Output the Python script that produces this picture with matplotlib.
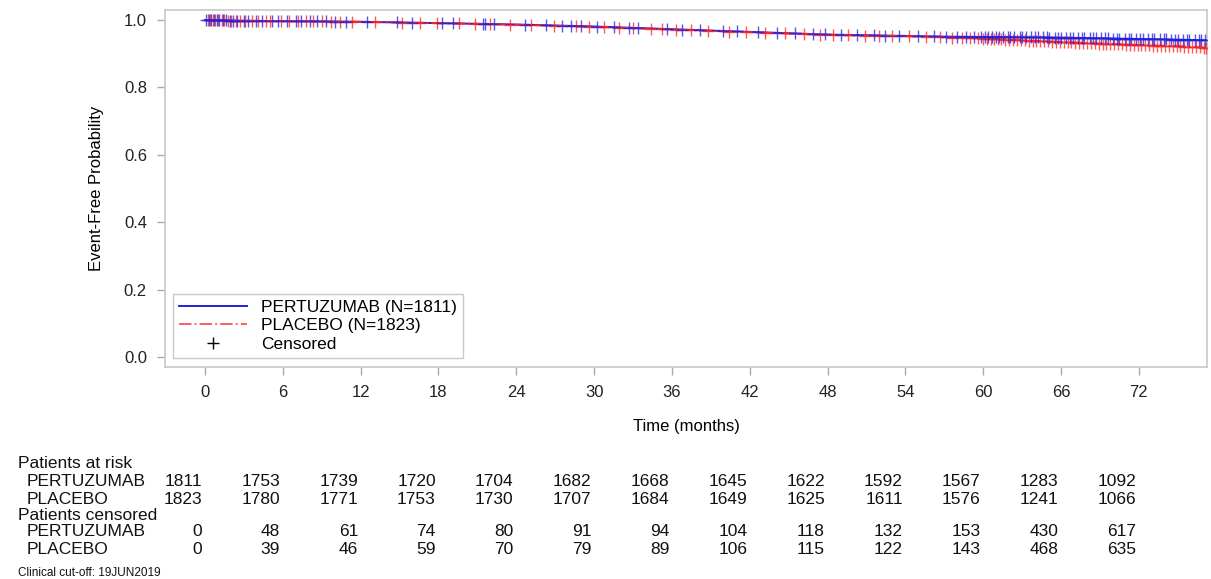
import numpy as np
import matplotlib
matplotlib.use("Agg")
import matplotlib.pyplot as plt
from matplotlib.lines import Line2D
from matplotlib.transforms import blended_transform_factory

plt.rcParams['font.family'] = ['Liberation Sans', 'DejaVu Sans']

# KM curve knots (months, event-free probability)
pert_t = [0, 3, 6, 9, 12, 15, 18, 21, 24, 27, 30, 33, 36, 39, 42, 45, 48, 51, 54, 57, 60, 63, 66, 69, 72, 75, 77.3]
pert_s = [1.0, 0.998, 0.997, 0.996, 0.995, 0.993, 0.991, 0.989, 0.987, 0.984, 0.981, 0.977, 0.973, 0.969,
          0.965, 0.961, 0.957, 0.955, 0.953, 0.951, 0.950, 0.949, 0.948, 0.946, 0.944, 0.942, 0.940]
plac_t = [0, 3, 6, 9, 12, 15, 18, 21, 24, 27, 30, 33, 36, 39, 42, 45, 48, 51, 54, 57, 60, 63, 66, 69, 72, 75, 77.3]
plac_s = [1.0, 0.998, 0.997, 0.996, 0.995, 0.993, 0.991, 0.989, 0.986, 0.983, 0.980, 0.976, 0.972, 0.968,
          0.964, 0.960, 0.956, 0.954, 0.952, 0.949, 0.945, 0.940, 0.935, 0.930, 0.926, 0.922, 0.918]

# censoring times (months)
pert_cens = [0.1, 0.3, 0.5, 0.7, 0.9, 1.1, 1.4, 1.6, 1.9, 2.2, 2.5, 3.0, 3.3, 3.9, 4.4, 5.2, 5.6, 6.3, 7.0,
             7.4, 8.1, 8.6, 9.3, 10.0, 10.9, 12.5, 14.8, 16.0, 18.3, 19.1, 21.4, 21.6, 22.3, 24.7, 26.3,
             27.5, 28.2, 29.0, 30.2, 31.5, 32.7, 33.4, 35.6, 36.8, 38.2, 39.9, 41.0, 42.6, 44.1, 45.5,
             46.9, 47.8, 49.0, 50.3, 51.6, 52.4, 53.5, 55.0, 56.2, 57.1, 58.0, 58.7, 59.3, 59.8, 60.1,
             60.4, 60.7, 61.0, 61.2, 61.5, 61.9, 62.1, 62.4, 62.8, 63.0, 63.3, 63.7, 64.0, 64.2, 64.6,
             64.9, 65.1, 65.5, 65.8, 66.0, 66.4, 66.7, 66.9, 67.3, 67.6, 67.8, 68.2, 68.5, 68.7, 69.1,
             69.4, 69.6, 70.0, 70.3, 70.5, 70.9, 71.2, 71.4, 71.8, 72.1, 72.3, 72.7, 73.0, 73.2, 73.6,
             73.9, 74.1, 74.5, 74.8, 75.0, 75.4, 75.7, 75.9, 76.3, 76.6, 76.8, 77.1]
plac_cens = [0.2, 0.4, 0.6, 0.8, 1.0, 1.3, 1.5, 1.8, 2.0, 2.4, 2.7, 3.1, 3.6, 4.1, 4.7, 5.0, 5.9, 6.5, 7.2,
             7.8, 8.3, 9.0, 9.7, 10.4, 11.3, 13.1, 15.2, 16.6, 17.9, 19.6, 20.8, 22.0, 23.5, 25.1, 26.9,
             28.6, 29.6, 30.8, 31.9, 33.0, 34.4, 35.2, 36.3, 37.5, 38.8, 40.4, 41.7, 43.2, 44.7, 46.2,
             47.4, 48.4, 49.6, 50.9, 52.0, 53.0, 54.3, 55.6, 56.7, 57.6, 58.4, 59.0, 59.6, 60.0, 60.3,
             60.6, 60.8, 61.1, 61.4, 61.7, 62.0, 62.3, 62.6, 62.9, 63.2, 63.5, 63.8, 64.1, 64.4, 64.7,
             65.0, 65.3, 65.6, 65.9, 66.2, 66.5, 66.8, 67.1, 67.4, 67.7, 68.0, 68.3, 68.6, 68.9, 69.2,
             69.5, 69.8, 70.1, 70.4, 70.7, 71.0, 71.3, 71.6, 71.9, 72.2, 72.5, 72.8, 73.1, 73.4, 73.7,
             74.0, 74.3, 74.6, 74.9, 75.2, 75.5, 75.8, 76.1, 76.4, 76.7, 77.0, 77.2]

# risk table
table_times = [0, 6, 12, 18, 24, 30, 36, 42, 48, 54, 60, 66, 72]
risk_pert = [1811, 1753, 1739, 1720, 1704, 1682, 1668, 1645, 1622, 1592, 1567, 1283, 1092]
risk_plac = [1823, 1780, 1771, 1753, 1730, 1707, 1684, 1649, 1625, 1611, 1576, 1241, 1066]
cens_pert = [0, 48, 61, 74, 80, 91, 94, 104, 118, 132, 153, 430, 617]
cens_plac = [0, 39, 46, 59, 70, 79, 89, 106, 115, 122, 143, 468, 635]

BLUE = '#1f1fe0'
RED = '#ff2020'

fig = plt.figure(figsize=(12.11, 5.79), dpi=100)
ax = fig.add_axes([165 / 1211, 1 - 367 / 579, (1207 - 165) / 1211, (367 - 10) / 579])

ax.plot(pert_t, pert_s, color=BLUE, lw=1.4, zorder=3)
ax.plot(plac_t, plac_s, color=RED, lw=1.4, ls='-.', zorder=3)
ax.plot(plac_cens, np.interp(plac_cens, plac_t, plac_s), ls='none', marker='+',
        ms=8, mew=1.0, color=RED, alpha=0.75, zorder=4)
ax.plot(pert_cens, np.interp(pert_cens, pert_t, pert_s), ls='none', marker='+',
        ms=8, mew=1.0, color=BLUE, alpha=0.75, zorder=5)

ax.set_xlim(-3.08, 77.25)
ax.set_ylim(-0.03, 1.03)
ax.set_xticks(table_times)
ax.set_yticks([0.0, 0.2, 0.4, 0.6, 0.8, 1.0])
ax.set_yticklabels(['0.0', '0.2', '0.4', '0.6', '0.8', '1.0'])
ax.tick_params(direction='out', length=6, width=1, color='#aaaaaa', labelsize=12,
               labelcolor='#222222', pad=7)
for sp in ax.spines.values():
    sp.set_color('#c8c8c8')
    sp.set_linewidth(1.2)

ax.set_xlabel('Time (months)', fontsize=12, labelpad=14)
ax.set_ylabel('Event-Free Probability', fontsize=12, labelpad=14)

handles = [Line2D([], [], color=BLUE, lw=1.4),
           Line2D([], [], color='#ff6060', lw=1.4, ls='-.'),
           Line2D([], [], color='black', ls='none', marker='+', ms=9, mew=1.0)]
leg = ax.legend(handles, ['PERTUZUMAB (N=1811)', 'PLACEBO (N=1823)', 'Censored'],
                loc='lower left', bbox_to_anchor=(0.0077, 0.025), borderaxespad=0, fontsize=12.5,
                frameon=True, fancybox=False, edgecolor='#c8c8c8', framealpha=1,
                handlelength=3.9, labelspacing=0.2, borderpad=0.35, handletextpad=0.8)
leg.get_frame().set_linewidth(1.0)

# risk table under the plot
tr = blended_transform_factory(ax.transData, fig.transFigure)
rows = [(463, 'Patients at risk', None), (482, 'PERTUZUMAB', risk_pert), (499, 'PLACEBO', risk_plac),
        (515, 'Patients censored', None), (532, 'PERTUZUMAB', cens_pert), (549, 'PLACEBO', cens_plac)]
for ypx, name, vals in rows:
    yf = 1 - ypx / 579
    if vals is None:
        fig.text(18 / 1211, yf, name, fontsize=12.5, va='center', ha='left', color='#111111')
    else:
        fig.text(27 / 1211, yf, name, fontsize=12.5, va='center', ha='left', color='#111111')
        for t, v in zip(table_times, vals):
            fig.text(t - 0.2, yf, str(v), transform=tr, fontsize=12.5, va='center', ha='right',
                     color='#111111')

fig.text(18 / 1211, 1 - 573 / 579, 'Clinical cut-off: 19JUN2019', fontsize=8.5, va='center',
         ha='left', color='#111111')

fig.savefig('out.png', dpi=100)
